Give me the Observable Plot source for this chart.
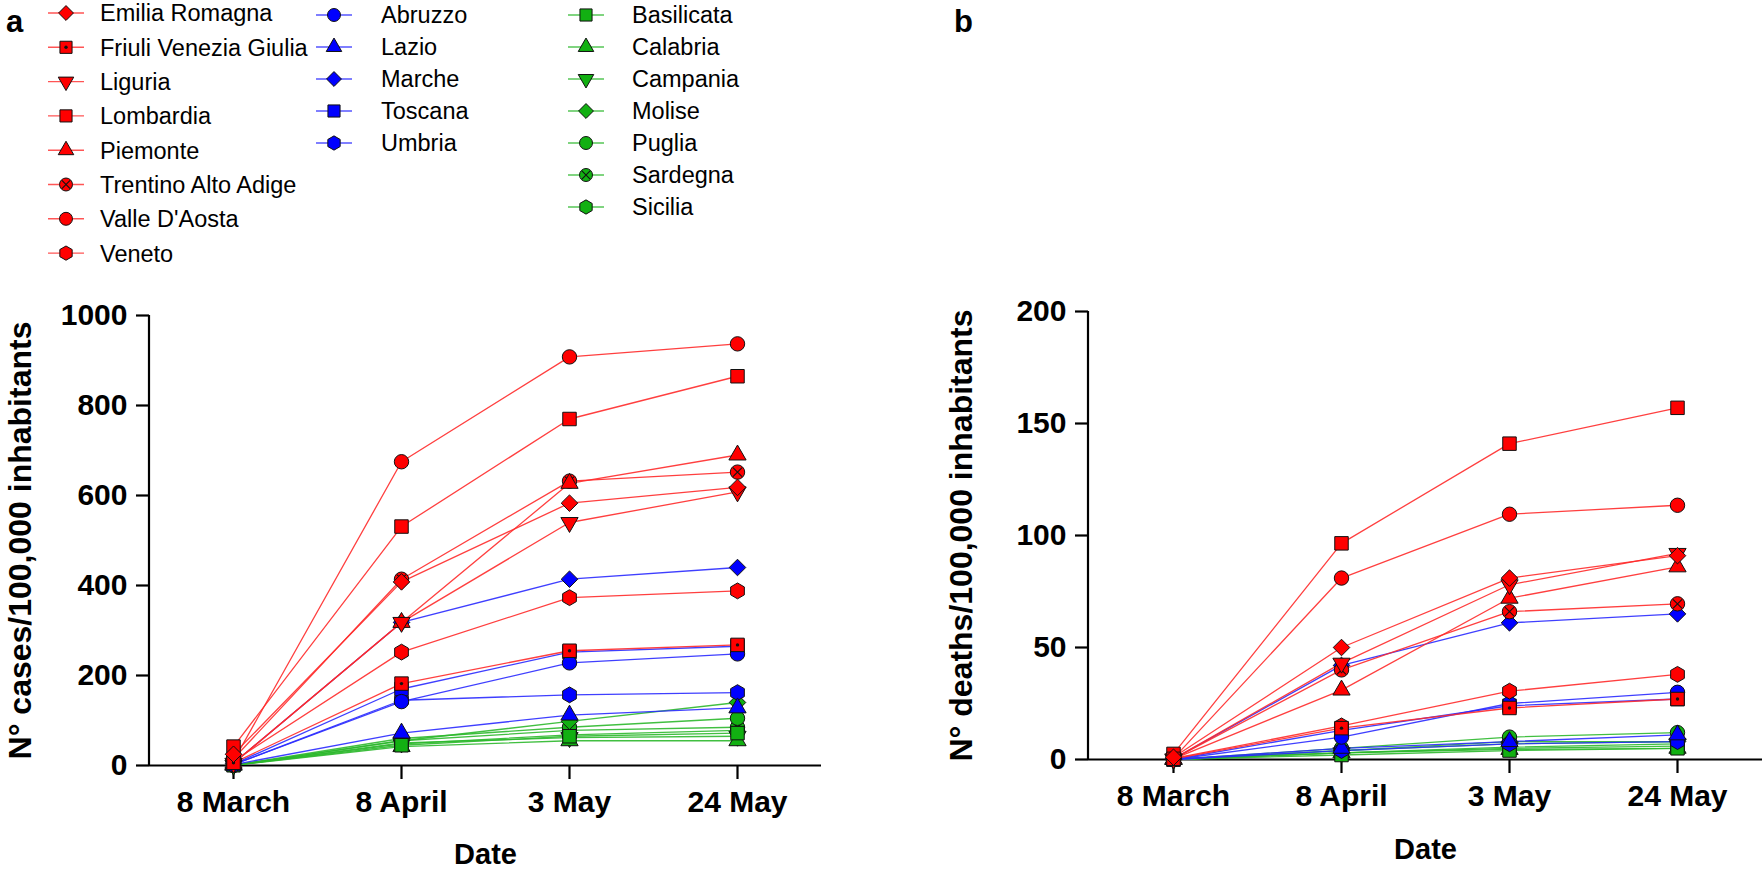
<!DOCTYPE html>
<html>
<head>
<meta charset="utf-8">
<script src="https://cdn.jsdelivr.net/npm/d3@7"></script>
<script src="https://cdn.jsdelivr.net/npm/@observablehq/plot@0.6"></script>
<style>
  body { margin: 0; background: #fff; }
  #root { position: relative; width: 1762px; height: 876px; overflow: hidden; font-family: "Liberation Sans", Arial, sans-serif; }
  .panel { position: absolute; top: 0; }
  .tag { position: absolute; font-weight: bold; font-size: 31px; line-height: 1; }
</style>
</head>
<body>
<div id="root"></div>
<script>
// ---------------- data ----------------
const dates = ["8 March", "8 April", "3 May", "24 May"];

const regions = [
  "Emilia Romagna", "Friuli Venezia Giulia", "Liguria", "Lombardia", "Piemonte",
  "Trentino Alto Adige", "Valle D'Aosta", "Veneto",
  "Abruzzo", "Lazio", "Marche", "Toscana", "Umbria",
  "Basilicata", "Calabria", "Campania", "Molise", "Puglia", "Sardegna", "Sicilia"
];
const areas = [
  "north", "north", "north", "north", "north", "north", "north", "north",
  "centre", "centre", "centre", "centre", "centre",
  "south", "south", "south", "south", "south", "south", "south"
];
const markers = [
  "diamond", "squareDot", "triDown", "square", "triangle", "circleX", "circle", "hexagon",
  "circle", "triangle", "diamond", "square", "hexagon",
  "square", "triangle", "triDown", "diamond", "circle", "circleX", "hexagon"
];

// N° cases / 100,000 inhabitants (8 March, 8 April, 3 May, 24 May)
const cases = [
  [25, 408, 583, 618],   // Emilia Romagna
  [6, 182, 255, 268],    // Friuli Venezia Giulia
  [5, 318, 540, 608],    // Liguria
  [42, 531, 770, 865],   // Lombardia
  [5, 318, 627, 690],    // Piemonte
  [15, 414, 632, 652],   // Trentino Alto Adige
  [10, 675, 908, 937],   // Valle D'Aosta
  [10, 252, 373, 388],   // Veneto
  [2, 142, 228, 248],    // Abruzzo
  [2, 72, 112, 128],     // Lazio
  [5, 318, 414, 440],    // Marche
  [3, 170, 252, 265],    // Toscana
  [2, 145, 157, 162],    // Umbria
  [0.5, 45, 65, 72],     // Basilicata
  [0.5, 42, 55, 55],     // Calabria
  [0.5, 50, 62, 65],     // Campania
  [0.5, 55, 98, 140],    // Molise
  [0.5, 60, 85, 105],    // Puglia
  [0.5, 55, 78, 85],     // Sardegna
  [0.5, 48, 68, 78]      // Sicilia
];

// N° deaths / 100,000 inhabitants
const deaths = [
  [1, 50, 81, 91],        // Emilia Romagna
  [0.3, 14, 23, 27],      // Friuli Venezia Giulia
  [0.3, 43, 78, 92],      // Liguria
  [2.5, 96.5, 141, 157],  // Lombardia
  [0.3, 31, 72, 86],      // Piemonte
  [0.3, 40, 66, 69.5],    // Trentino Alto Adige
  [0.5, 81, 109.5, 113.5],// Valle D'Aosta
  [0.5, 15, 30.5, 38],    // Veneto
  [0, 10, 25, 30],        // Abruzzo
  [0, 5, 8, 11],          // Lazio
  [0.3, 42, 61, 65],      // Marche
  [0, 13, 24, 27],        // Toscana
  [0, 4, 7, 8],           // Umbria
  [0, 2, 4, 5],           // Basilicata
  [0, 3, 4.5, 5],         // Calabria
  [0, 3, 5.5, 7],         // Campania
  [0, 4, 8, 8],           // Molise
  [0, 5, 10, 12],         // Puglia
  [0, 4, 7, 8],           // Sardegna
  [0, 3, 5, 6]            // Sicilia
];

const casesTicks = [0, 200, 400, 600, 800, 1000];
const deathsTicks = [0, 50, 100, 150, 200];

// ---------------- styles ----------------
const fillColor = {north: "#ff0000", centre: "#0000ff", south: "#12b012"};
const lineColor = {north: "#ff2a2a", centre: "#2a2aff", south: "#2cb82c"};
const FONT = "'Liberation Sans', Arial, sans-serif";
const sqrt3 = Math.sqrt(3);

const symTriDown = {draw(ctx, size) {
  const y = -Math.sqrt(size / (sqrt3 * 3));
  ctx.moveTo(0, -2 * y); ctx.lineTo(sqrt3 * y, y); ctx.lineTo(-sqrt3 * y, y); ctx.closePath();
}};
const symDiamond = {draw(ctx, size) {
  const h = Math.sqrt(size / 2);
  ctx.moveTo(0, -h); ctx.lineTo(h, 0); ctx.lineTo(0, h); ctx.lineTo(-h, 0); ctx.closePath();
}};
const symHexagon = {draw(ctx, size) {
  const R = Math.sqrt(size * 2 / (3 * sqrt3));
  for (let k = 0; k < 6; k++) {
    const a = Math.PI / 6 + k * Math.PI / 3;
    const x = R * Math.cos(a), y = R * Math.sin(a);
    k ? ctx.lineTo(x, y) : ctx.moveTo(x, y);
  }
  ctx.closePath();
}};
const baseSymbol = {
  circle: d3.symbolCircle, circleX: d3.symbolCircle, square: d3.symbolSquare, squareDot: d3.symbolSquare,
  triangle: d3.symbolTriangle, triDown: symTriDown, diamond: symDiamond, hexagon: symHexagon
};
const baseR = {circle: 7.2, circleX: 7.2, square: 7.6, squareDot: 7.6, triangle: 6.4, triDown: 6.4, diamond: 6.6, hexagon: 7.2};

// ---------------- panels ----------------
function panel(values, ticks, yMax, yLabel, geom) {
  const rows = [];
  regions.forEach((name, i) => values[i].forEach((v, j) => rows.push({region: name, date: dates[j], value: v, i})));
  const order = d3.range(regions.length).reverse(); // south first, north on top
  const marks = [];
  // axis lines
  marks.push((index, scales, vals, dim) => {
    const g = d3.create("svg:g").attr("stroke", "#000").attr("stroke-width", 2.2);
    g.append("line").attr("x1", dim.marginLeft).attr("x2", dim.marginLeft)
      .attr("y1", dim.marginTop).attr("y2", dim.height - dim.marginBottom);
    return g.node();
  });
  marks.push(Plot.ruleY([0], {stroke: "#000", strokeWidth: 2.2}));
  marks.push(Plot.axisY({ticks, tickSize: 13, tickPadding: 9, strokeWidth: 2.2, tickFormat: d => String(d),
    label: null, fontSize: 30, fontWeight: "bold", fontFamily: FONT}));
  marks.push(Plot.axisX({tickSize: 14, tickPadding: 11, strokeWidth: 2.2, label: null,
    fontSize: 30, fontWeight: "bold", fontFamily: FONT, lineAnchor: "top"}));
  // lines
  for (const i of order) {
    marks.push(Plot.line(rows.filter(d => d.i === i), {x: "date", y: "value",
      stroke: lineColor[areas[i]], strokeWidth: 1.3, strokeOpacity: 0.9}));
  }
  // symbols
  for (const i of order) {
    const m = markers[i];
    const sub = rows.filter(d => d.i === i);
    marks.push(Plot.dot(sub, {x: "date", y: "value", symbol: baseSymbol[m], r: baseR[m],
      fill: fillColor[areas[i]], stroke: "#111", strokeWidth: 1}));
    if (m === "circleX") marks.push(Plot.dot(sub, {x: "date", y: "value", symbol: "times", r: 4.2, stroke: "#111", strokeWidth: 1.1}));
    if (m === "squareDot") marks.push(Plot.dot(sub, {x: "date", y: "value", r: 1.7, fill: "#111"}));
  }
  // axis titles
  marks.push(Plot.text([yLabel], {frameAnchor: "left", rotate: -90, textAnchor: "middle", dx: geom.yLabelDx,
    fontSize: 32, fontWeight: "bold", fontFamily: FONT}));
  marks.push(Plot.text(["Date"], {frameAnchor: "bottom", dy: geom.dateDy, textAnchor: "middle",
    fontSize: 29, fontWeight: "bold", fontFamily: FONT}));

  const svg = Plot.plot({
    width: geom.width, height: 876,
    marginLeft: geom.ml, marginRight: geom.mr, marginTop: geom.mt, marginBottom: geom.mb,
    x: {type: "point", domain: dates, padding: 0.5, axis: null},
    y: {domain: [0, yMax], axis: null},
    style: {fontFamily: FONT, background: "transparent", overflow: "visible", color: "#000"},
    marks
  });
  svg.classList.add("panel");
  svg.style.left = geom.left + "px";
  return svg;
}

const root = document.getElementById("root");
root.appendChild(panel(cases, casesTicks, 1000, "N° cases/100,000 inhabitants",
  {left: 0, width: 880, ml: 149, mr: 59, mt: 315, mb: 111, yLabelDx: -129, dateDy: 98}));
root.appendChild(panel(deaths, deathsTicks, 200, "N° deaths/100,000 inhabitants",
  {left: 880, width: 882, ml: 208, mr: 0, mt: 311, mb: 117, yLabelDx: -127, dateDy: 99}));

// panel tags
for (const [t, x] of [["a", 6], ["b", 954]]) {
  const el = document.createElement("div");
  el.className = "tag"; el.textContent = t;
  el.style.left = x + "px"; el.style.top = "6px";
  root.appendChild(el);
}

// ---------------- legend ----------------
const legendCols = {
  north: {sx: 66, tx: 100, y0: 13, dy: 34.3},
  centre: {sx: 334, tx: 381, y0: 15, dy: 32},
  south: {sx: 586, tx: 632, y0: 15, dy: 32}
};
const leg = d3.select(root).append("svg").attr("width", 900).attr("height", 280)
  .style("position", "absolute").style("left", "0px").style("top", "0px");
const rowCount = {north: 0, centre: 0, south: 0};
regions.forEach((name, i) => {
  const a = areas[i], c = legendCols[a], m = markers[i];
  const y = c.y0 + c.dy * rowCount[a]++;
  const g = leg.append("g").attr("transform", `translate(${c.sx},${y})`);
  g.append("line").attr("x1", -18).attr("x2", 18).attr("stroke", lineColor[a]).attr("stroke-width", 1.4).attr("stroke-opacity", 0.8);
  const r = baseR[m] * 0.9;
  g.append("path").attr("d", d3.symbol(baseSymbol[m], Math.PI * r * r)())
    .attr("fill", fillColor[a]).attr("stroke", "#111").attr("stroke-width", 1);
  if (m === "circleX") g.append("path").attr("d", d3.symbol(d3.symbolTimes, Math.PI * 3.8 * 3.8)()).attr("fill", "none").attr("stroke", "#111").attr("stroke-width", 1.1);
  if (m === "squareDot") g.append("circle").attr("r", 1.7).attr("fill", "#111");
  leg.append("text").attr("x", c.tx).attr("y", y).attr("dy", "0.36em")
    .attr("font-family", FONT).attr("font-size", 23.5).attr("fill", "#000").text(name);
});
</script>
</body>
</html>
